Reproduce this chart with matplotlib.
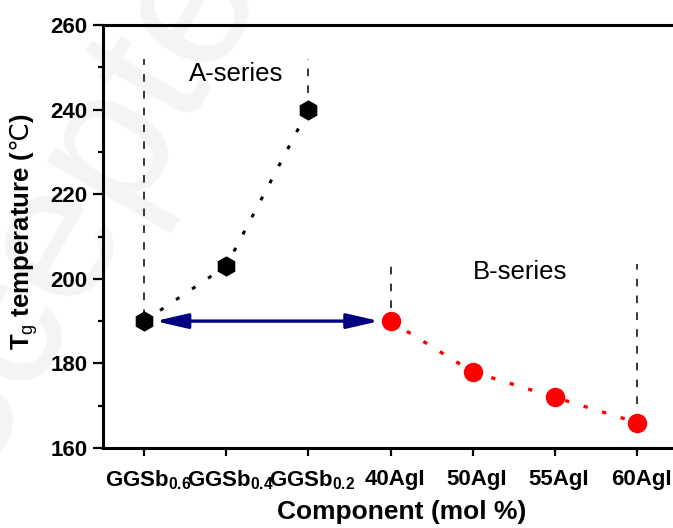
import matplotlib
matplotlib.use('Agg')
import matplotlib.pyplot as plt
import matplotlib.transforms as mtransforms
from matplotlib.ticker import MultipleLocator

plt.rcParams['font.family'] = ['Liberation Sans', 'DejaVu Sans']
plt.rcParams['mathtext.fontset'] = 'custom'
plt.rcParams['mathtext.rm'] = 'Liberation Sans'
plt.rcParams['mathtext.bf'] = 'Liberation Sans:bold'
plt.rcParams['mathtext.sf'] = 'Noto Sans CJK SC'

#================================ data ================================
categories = [r'$\mathbf{GGSb_{0.6}}$', r'$\mathbf{GGSb_{0.4}}$', r'$\mathbf{GGSb_{0.2}}$',
              '40AgI', '50AgI', '55AgI', '60AgI']
a_pos = [1, 2, 3]
a_tg = [190, 203, 240]
b_pos = [4, 5, 6, 7]
b_tg = [190, 178, 172, 166]

# dashed guide lines bracketing each series: (x, y_low, y_high)
guides = [(1, 191, 252), (3, 244, 252), (4, 193, 204), (7, 170.5, 203.5)]

#================================ figure ================================
fig = plt.figure(figsize=(6.73, 5.28), dpi=100)
ax = fig.add_axes([103 / 673, 80 / 528, 575 / 673, 423 / 528])
ax.patch.set_alpha(0)

# faint watermark behind the axes
fig.text(0.11, 0.58, 'Accepted', rotation=60, fontsize=140, color='#f4f4f4',
         ha='center', va='center', zorder=-5)

for x, y0, y1 in guides:
    ax.plot([x, x], [y0, y1], color='black', lw=1.1, ls=(0, (5, 6)), zorder=2)

ax.plot(a_pos, a_tg, color='black', lw=2.2, ls=(0, (1.3, 5)), zorder=3)
ax.plot(a_pos, a_tg, 'h', color='black', markersize=13.5, zorder=4)
ax.plot(b_pos, b_tg, color='#ff0000', lw=2.4, ls=(0, (1.3, 4.5)), zorder=3)
ax.plot(b_pos, b_tg, 'o', color='#ff0000', markersize=13, zorder=4)

ax.annotate('', xy=(b_pos[0], b_tg[0]), xytext=(a_pos[0], a_tg[0]),
            arrowprops=dict(arrowstyle='<|-|>,head_length=1.3,head_width=0.3',
                            color='#000080', lw=2.4, shrinkA=8, shrinkB=8,
                            mutation_scale=15), zorder=5)

ax.text(2.12, 248.5, 'A-series', fontsize=18.5, ha='center', va='center')
ax.text(5.58, 201.5, 'B-series', fontsize=18.5, ha='center', va='center')

ax.set_xlim(0.5, 7.5)
ax.set_ylim(160, 260)
ax.set_xticks(range(1, 8))
ax.set_xticklabels(categories)
ax.yaxis.set_major_locator(MultipleLocator(20))
ax.yaxis.set_minor_locator(MultipleLocator(10))

for s in ax.spines.values():
    s.set_linewidth(2.2)
ax.tick_params(axis='y', which='major', direction='out', length=7.2, width=1.6,
               pad=4, labelsize=16)
ax.tick_params(axis='y', which='minor', direction='out', length=3.6, width=1.6)
ax.tick_params(axis='x', which='major', direction='out', length=5.8, width=1.6,
               pad=9, labelsize=16)
for lbl in ax.get_xticklabels() + ax.get_yticklabels():
    lbl.set_fontweight('bold')

# nudge category labels slightly right
shift = mtransforms.ScaledTranslation(4 / 100, 0, fig.dpi_scale_trans)
for lbl in ax.get_xticklabels():
    lbl.set_transform(lbl.get_transform() + shift)

fig.text(402 / 673, 1 - 519 / 528, 'Component (mol %)', fontsize=19,
         fontweight='bold', ha='center', va='baseline')
fig.text(24 / 673, 1 - 232 / 528,
         r'$\mathbf{T}_{\mathrm{g}}$ temperature ($\mathsf{℃}$)',
         fontsize=18.5, fontweight='bold', rotation=90, ha='center', va='center')

fig.savefig('out.png', dpi=100)
